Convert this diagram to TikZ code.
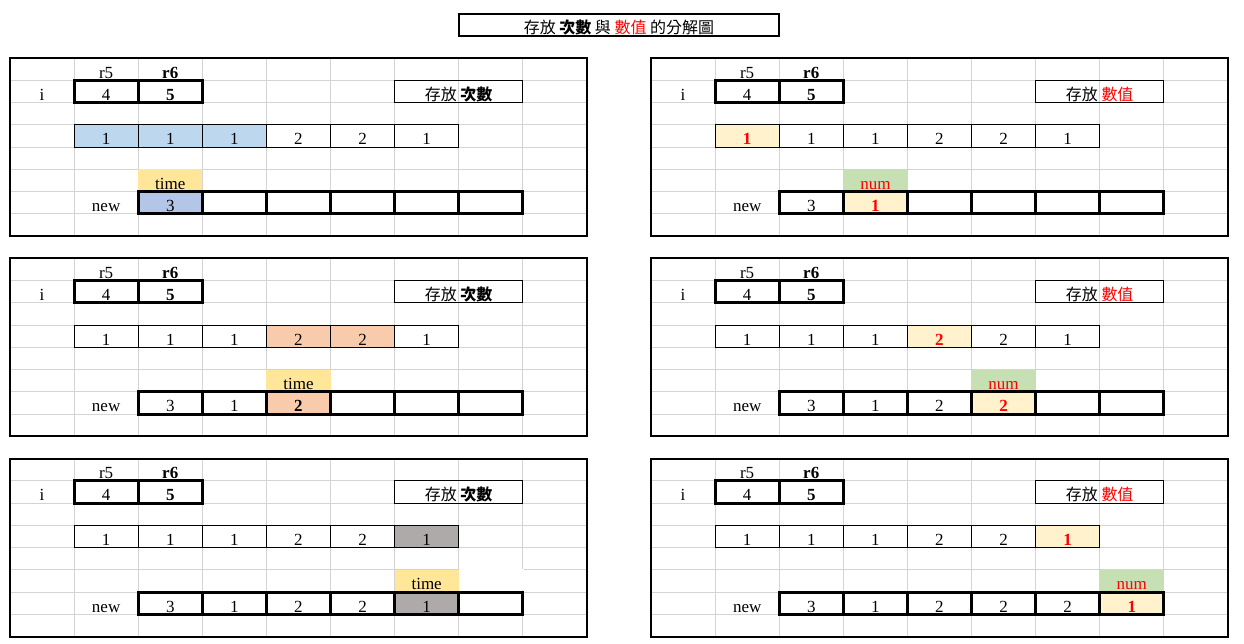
\documentclass[tikz,border=0pt]{standalone}
\usepackage{fontspec}
\setmainfont{Liberation Serif}
\newfontfamily\cjk[Scale=0.94]{Noto Sans CJK TC}
\usepackage{tikz}
\usetikzlibrary{positioning, backgrounds}

\definecolor{gridgray}{HTML}{D4D4D4}
\definecolor{timeyellow}{HTML}{FFE699}
\definecolor{numgreen}{HTML}{C6E0B4}
\definecolor{pickyellow}{HTML}{FFF2CC}
\definecolor{runblue}{HTML}{BDD7EE}
\definecolor{newblue}{HTML}{B4C6E7}
\definecolor{runsalmon}{HTML}{F8CBAD}
\definecolor{rungray}{HTML}{AEAAAA}

\tikzstyle{cell} = [rectangle, minimum width=64.1pt, minimum height=22.25pt, inner sep=0pt, text height=18pt, text depth=0pt, text centered]
\tikzstyle{databox} = [cell, draw=black, line width=1pt]
\tikzstyle{boldbox} = [cell, draw=black, line width=3pt]
\tikzstyle{tagbox} = [cell, minimum width=128.2pt, draw=black, line width=1pt]
\tikzstyle{titlebox} = [cell, minimum width=320.5pt, draw=black, line width=2pt]
\tikzstyle{gridline} = [draw=gridgray, line width=1pt]
\tikzstyle{panel} = [draw=black, line width=2pt]

\begin{document}
\begin{tikzpicture}[x=64.1pt, y=-22.25pt, every node/.style={font=\fontsize{17}{20}\selectfont}]
    \useasboundingbox (-0.156,-0.607) rectangle (19.251,28.292);

    \node (title) [titlebox] at (9.5,0.5) {\cjk 存放 \textbf{次數} 與 \textcolor{red}{數值} 的分解圖};

    % the six sheets: grid, frame and the fixed cells
    \foreach \px/\py/\nm in {0/2/L1, 0/11/L2, 0/20/L3, 10/2/R1, 10/11/R2, 10/20/R3} {
        \begin{scope}[shift={(\px,\py)}, name prefix=\nm-]
            \foreach \c in {1,...,8} \draw [gridline] (\c,0) -- (\c,8);
            \foreach \r in {1,...,7} \draw [gridline] (0,\r) -- (9,\r);
            \draw [panel] (0,0) rectangle (9,8);
            \node (r5) [cell] at (1.5,0.5) {r5};
            \node (r6) [cell] at (2.5,0.5) {\textbf{r6}};
            \node (i) [cell] at (0.5,1.5) {i};
            \node (i4) [boldbox] at (1.5,1.5) {4};
            \node (i5) [boldbox] at (2.5,1.5) {\textbf{5}};
            \node (new) [cell] at (1.5,6.5) {new};
        \end{scope}
    }

    % left: counting
    \begin{scope}[shift={(0,2)}, name prefix=L1-]
        \node (tag) [tagbox] at (7,1.5) {\cjk 存放 \textbf{次數}};
        \foreach \v/\fc [count=\k] in {1/runblue, 1/runblue, 1/runblue, 2/white, 2/white, 1/white}
            \node (d\k) [databox, fill=\fc] at (\k+0.5,3.5) {\v};
        \node (time) [cell, fill=timeyellow] at (2.5,5.5) {time};
        \foreach \v/\fc [count=\k] in {3/newblue, {}/white, {}/white, {}/white, {}/white, {}/white}
            \node (n\k) [boldbox, fill=\fc] at (\k+1.5,6.5) {\v};
    \end{scope}

    \begin{scope}[shift={(0,11)}, name prefix=L2-]
        \node (tag) [tagbox] at (7,1.5) {\cjk 存放 \textbf{次數}};
        \foreach \v/\fc [count=\k] in {1/white, 1/white, 1/white, 2/runsalmon, 2/runsalmon, 1/white}
            \node (d\k) [databox, fill=\fc] at (\k+0.5,3.5) {\v};
        \node (time) [cell, fill=timeyellow] at (4.5,5.5) {time};
        \foreach \v/\fc [count=\k] in {3/white, 1/white, \textbf{2}/runsalmon, {}/white, {}/white, {}/white}
            \node (n\k) [boldbox, fill=\fc] at (\k+1.5,6.5) {\v};
    \end{scope}

    \begin{scope}[shift={(0,20)}, name prefix=L3-]
        \fill [white] (7.01,4.96) rectangle (8.02,5.9);
        \node (tag) [tagbox] at (7,1.5) {\cjk 存放 \textbf{次數}};
        \foreach \v/\fc [count=\k] in {1/white, 1/white, 1/white, 2/white, 2/white, 1/rungray}
            \node (d\k) [databox, fill=\fc] at (\k+0.5,3.5) {\v};
        \node (time) [cell, fill=timeyellow] at (6.5,5.5) {time};
        \foreach \v/\fc [count=\k] in {3/white, 1/white, 2/white, 2/white, 1/rungray, {}/white}
            \node (n\k) [boldbox, fill=\fc] at (\k+1.5,6.5) {\v};
    \end{scope}

    % right: values
    \begin{scope}[shift={(10,2)}, name prefix=R1-]
        \node (tag) [tagbox] at (7,1.5) {\cjk 存放 \textcolor{red}{數值}};
        \foreach \v/\fc/\tc [count=\k] in {\textbf{1}/pickyellow/red, 1/white/black, 1/white/black, 2/white/black, 2/white/black, 1/white/black}
            \node (d\k) [databox, fill=\fc, text=\tc] at (\k+0.5,3.5) {\v};
        \node (num) [cell, fill=numgreen, text=red] at (3.5,5.5) {num};
        \foreach \v/\fc/\tc [count=\k] in {3/white/black, \textbf{1}/pickyellow/red, {}/white/black, {}/white/black, {}/white/black, {}/white/black}
            \node (n\k) [boldbox, fill=\fc, text=\tc] at (\k+1.5,6.5) {\v};
    \end{scope}

    \begin{scope}[shift={(10,11)}, name prefix=R2-]
        \node (tag) [tagbox] at (7,1.5) {\cjk 存放 \textcolor{red}{數值}};
        \foreach \v/\fc/\tc [count=\k] in {1/white/black, 1/white/black, 1/white/black, \textbf{2}/pickyellow/red, 2/white/black, 1/white/black}
            \node (d\k) [databox, fill=\fc, text=\tc] at (\k+0.5,3.5) {\v};
        \node (num) [cell, fill=numgreen, text=red] at (5.5,5.5) {num};
        \foreach \v/\fc/\tc [count=\k] in {3/white/black, 1/white/black, 2/white/black, \textbf{2}/pickyellow/red, {}/white/black, {}/white/black}
            \node (n\k) [boldbox, fill=\fc, text=\tc] at (\k+1.5,6.5) {\v};
    \end{scope}

    \begin{scope}[shift={(10,20)}, name prefix=R3-]
        \node (tag) [tagbox] at (7,1.5) {\cjk 存放 \textcolor{red}{數值}};
        \foreach \v/\fc/\tc [count=\k] in {1/white/black, 1/white/black, 1/white/black, 2/white/black, 2/white/black, \textbf{1}/pickyellow/red}
            \node (d\k) [databox, fill=\fc, text=\tc] at (\k+0.5,3.5) {\v};
        \node (num) [cell, fill=numgreen, text=red] at (7.5,5.5) {num};
        \foreach \v/\fc/\tc [count=\k] in {3/white/black, 1/white/black, 2/white/black, 2/white/black, 2/white/black, \textbf{1}/pickyellow/red}
            \node (n\k) [boldbox, fill=\fc, text=\tc] at (\k+1.5,6.5) {\v};
    \end{scope}

\end{tikzpicture}
\end{document}
